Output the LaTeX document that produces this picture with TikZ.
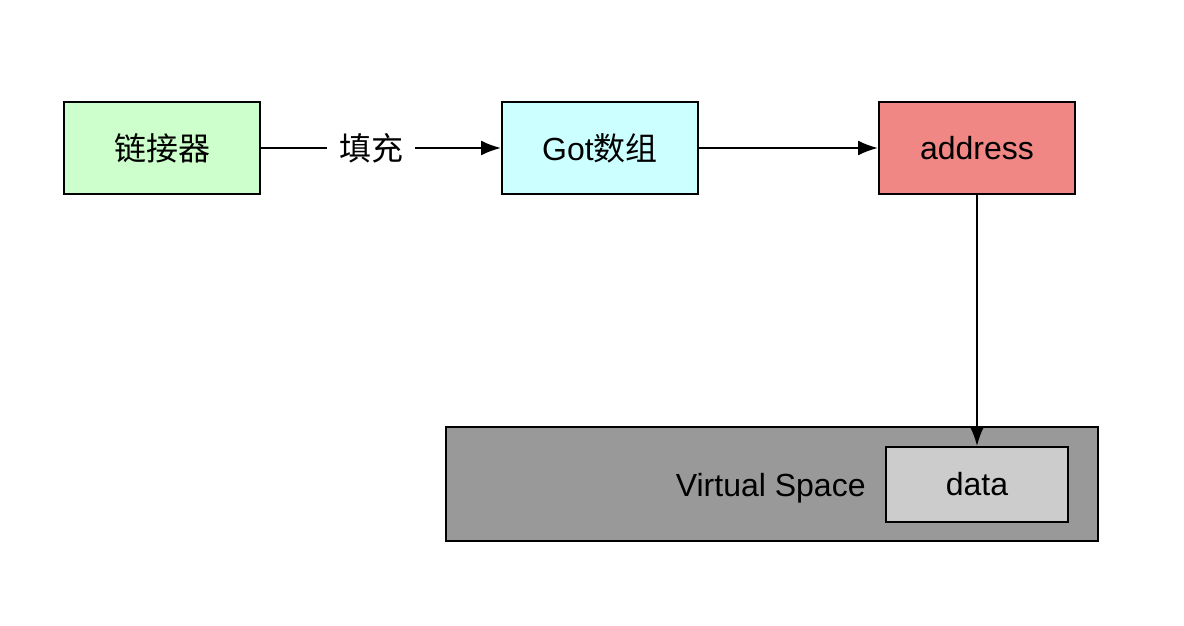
\documentclass[tikz,border=0pt]{standalone}
\usepackage{fontspec}
\setmainfont{Liberation Sans}
\newfontfamily\cjk{Noto Sans CJK SC}
\usetikzlibrary{arrows.meta}

\definecolor{linkergreen}{HTML}{CCFFCC}
\definecolor{gotcyan}{HTML}{CCFFFF}
\definecolor{addrred}{HTML}{F08784}
\definecolor{vsgray}{HTML}{999999}
\definecolor{datagray}{HTML}{CCCCCC}

\begin{document}
\begin{tikzpicture}[x=0.5pt,y=-0.5pt,
        font=\fontsize{16}{19}\selectfont,
        box/.style={draw,line width=1pt,minimum width=98pt,minimum height=46pt,inner sep=0pt},
        link/.style={line width=1pt,-{Latex[length=10pt,width=7.5pt]}}]
            \useasboundingbox (0,0) rectangle (1184,626);

            % top row
            \node[box,fill=linkergreen] (linker) at (162,148) {\cjk 链接器};
            \node[box,fill=gotcyan] (got) at (600,148) {Got{\cjk 数组}};
            \node[box,fill=addrred] (addr) at (977,148) {address};

            % virtual space
            \node[draw,line width=1pt,fill=vsgray,minimum width=326pt,minimum height=57pt,inner sep=0pt] (vspace) at (772,484) {};
            \node[anchor=east,inner sep=0pt] (vslabel) at (866,488) {Virtual Space};
            \node[draw,line width=1pt,fill=datagray,minimum width=91pt,minimum height=37.5pt,inner sep=0pt] (data) at (977,484.5) {data};

            % arrows
            \draw[link] (linker) -- node[pos=0.46,fill=white,inner xsep=6pt,inner ysep=2pt] (fill) {\cjk 填充} (got);
            \draw[link] (got) -- (addr);
            \draw[link] (addr) -- (data);
        \end{tikzpicture}
\end{document}
